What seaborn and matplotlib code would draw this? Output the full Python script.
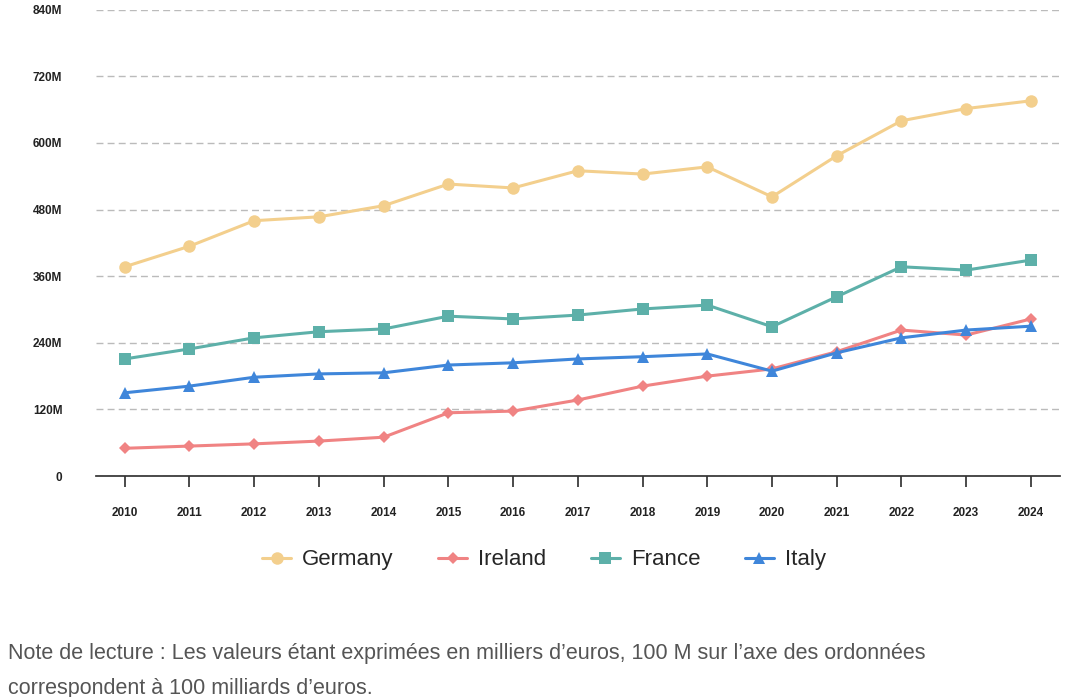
import numpy as np
import pandas as pd
import seaborn as sns
import matplotlib.pyplot as plt
from matplotlib.ticker import FuncFormatter

years = list(range(2010, 2025))
germany = [377, 414, 460, 467, 487, 526, 519, 550, 544, 557, 503, 577, 640, 662, 676]
ireland = [50, 54, 58, 63, 70, 114, 117, 137, 162, 180, 193, 224, 263, 254, 283]
france = [211, 229, 249, 260, 265, 288, 283, 290, 301, 308, 269, 323, 377, 371, 389]
italy = [150, 162, 178, 184, 186, 200, 204, 211, 215, 220, 189, 222, 249, 263, 270]

series = {"Germany": germany, "Ireland": ireland, "France": france, "Italy": italy}
colors = {"Germany": "#F3CF8D", "Ireland": "#F08383", "France": "#5DB0A9", "Italy": "#3F86DA"}
markers = {"Germany": "o", "Ireland": "D", "France": "s", "Italy": "^"}
msizes = {"Germany": 9, "Ireland": 6, "France": 9, "Italy": 9}

df = pd.DataFrame([(y, k, v) for k, vals in series.items() for y, v in zip(years, vals)],
                  columns=["year", "country", "value"])

sns.set_theme(style="white")
plt.rcParams['font.family'] = ['Liberation Sans', 'DejaVu Sans']

fig = plt.figure(figsize=(10.74, 6.97), dpi=100)
ax = fig.add_axes([0.089, 0.317, 0.898, 0.669])

for name in series:
    d = df[df.country == name]
    sns.lineplot(data=d, x="year", y="value", ax=ax, color=colors[name], marker=markers[name],
                 markersize=msizes[name], markeredgewidth=0, linewidth=2.2, label=name)

ax.set_ylim(0, 840)
ax.set_yticks(np.arange(0, 841, 120))
ax.yaxis.set_major_formatter(FuncFormatter(lambda v, p: "0" if v == 0 else f"{int(v)}M"))
ax.set_xlim(2009.55, 2024.45)
ax.set_xticks(years)
ax.set_xlabel("")
ax.set_ylabel("")
ax.grid(axis="y", color="#bbbbbb", linestyle=(0, (5, 3)), linewidth=1)
for s in ["top", "right", "left"]:
    ax.spines[s].set_visible(False)
ax.spines["bottom"].set_color("#333333")
ax.tick_params(axis="x", bottom=True, length=8, pad=14, color="#333333", labelsize=8.5)
ax.tick_params(axis="y", left=False, labelsize=8.5, pad=18)
for lbl in ax.get_xticklabels() + ax.get_yticklabels():
    lbl.set_fontweight("bold")
    lbl.set_color("#222222")

ax.legend(loc="center", bbox_to_anchor=(0.465, -0.18), ncol=4, frameon=False,
          fontsize=16, handlelength=1.3, handletextpad=0.5, columnspacing=2.0)

fig.text(0.007, 0.055, "Note de lecture : Les valeurs étant exprimées en milliers d’euros, 100 M sur l’axe des ordonnées",
         fontsize=15.5, color="#555555")
fig.text(0.007, 0.005, "correspondent à 100 milliards d’euros.",
         fontsize=15.5, color="#555555")

fig.savefig("out.png", dpi=100)
